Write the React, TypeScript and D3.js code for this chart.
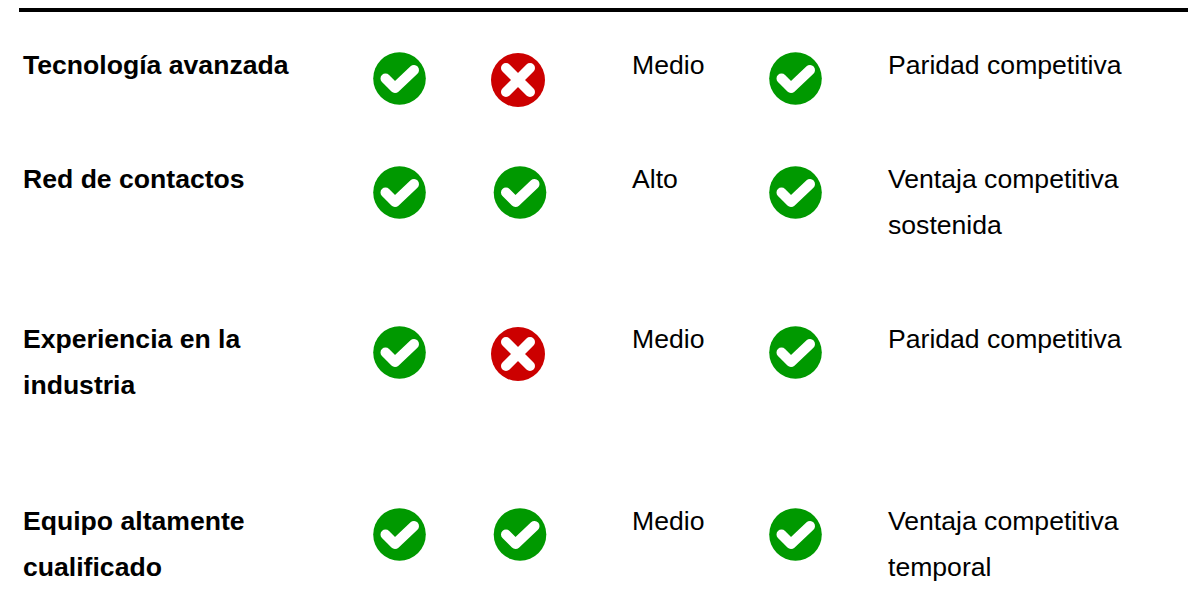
import React from "react";
import * as d3 from "d3";

const resources = [["Tecnología avanzada"], ["Red de contactos"], ["Experiencia en la", "industria"], ["Equipo altamente", "cualificado"]];
const col1 = [true, true, true, true];
const col2 = [false, true, false, true];
const col3 = ["Medio", "Alto", "Medio", "Medio"];
const col4 = [true, true, true, true];
const col5 = [["Paridad competitiva"], ["Ventaja competitiva", "sostenida"], ["Paridad competitiva"], ["Ventaja competitiva", "temporal"]];

const W = 1188, H = 594;
const rowIdx = [0, 1, 2, 3];
const rowY = d3.scaleOrdinal<number, number>().domain(rowIdx).range([74, 188, 348, 530]);
const LH = 46;
const FONT = "'Liberation Sans', Arial, sans-serif";
const FS = 26.6;
const GREEN = "#009900";
const RED = "#cc0000";

function Icon({ ok, x, y }: { ok: boolean; x: number; y: number }) {
  if (ok) {
    return (
      <g transform={`translate(${x},${y})`}>
        <circle r={26.3} fill={GREEN} />
        <path d="M-14,0 L-4.5,9.5 L14.5,-8.5" fill="none" stroke="#fff" strokeWidth={10} strokeLinecap="round" strokeLinejoin="round" />
      </g>
    );
  }
  return (
    <g transform={`translate(${x},${y})`}>
      <circle r={27} fill={RED} />
      <path d="M-12,-12 L12,12 M12,-12 L-12,12" fill="none" stroke="#fff" strokeWidth={10} strokeLinecap="round" />
    </g>
  );
}

function Lines({ lines, x, y, bold }: { lines: string[]; x: number; y: number; bold?: boolean }) {
  return (
    <text x={x} y={y} fontFamily={FONT} fontSize={FS} fontWeight={bold ? 700 : 400} fill="#000">
      {lines.map((l, i) => (
        <tspan key={i} x={x} y={y + i * LH}>{l}</tspan>
      ))}
    </text>
  );
}

export default function App() {
  return (
    <svg width={W} height={H} style={{ position: "fixed", left: 0, top: 0, background: "#fff" }}>
      <rect x={19} y={8} width={W - 19} height={4} fill="#000" />
      {rowIdx.map((i) => {
        const y = rowY(i);
        return (
          <g key={i}>
            <Lines lines={resources[i]} x={23} y={y} bold />
            <Icon ok={col1[i]} x={399.5} y={y + 4.5} />
            <Icon ok={col2[i]} x={col2[i] ? 520 : 518} y={y + (col2[i] ? 4.5 : 6)} />
            <Lines lines={[col3[i]]} x={632} y={y} />
            <Icon ok={col4[i]} x={795.5} y={y + 4.5} />
            <Lines lines={col5[i]} x={888} y={y} />
          </g>
        );
      })}
    </svg>
  );
}
